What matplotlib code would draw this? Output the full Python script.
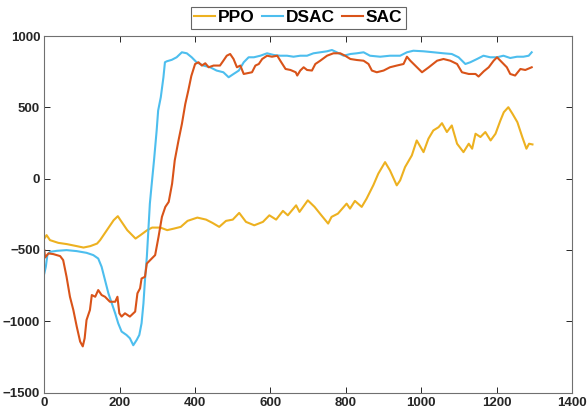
import matplotlib
matplotlib.use("Agg")
import matplotlib.pyplot as plt

ppo_x = [0, 6, 15, 37, 60, 86, 104, 122, 140, 148, 166, 184, 195, 202, 220, 242, 255, 273, 286, 308,
         326, 344, 362, 380, 406, 429, 446, 464, 482, 500, 517, 535, 557, 580, 597, 615, 633, 646, 668,
         677, 699, 717, 735, 753, 762, 779, 802, 811, 824, 842, 855, 873, 886, 904, 917, 935, 944, 957,
         975, 988, 1006, 1019, 1032, 1046, 1055, 1068, 1081, 1095, 1112, 1126, 1135, 1144, 1157, 1170,
         1184, 1197, 1210, 1219, 1231, 1242, 1255, 1268, 1279, 1286, 1295]
ppo_y = [-420, -396, -431, -450, -459, -473, -483, -473, -455, -431, -361, -291, -263, -291, -361, -420,
         -396, -361, -343, -343, -361, -350, -338, -296, -273, -287, -310, -338, -296, -287, -240, -303,
         -327, -303, -257, -287, -226, -257, -187, -233, -152, -198, -257, -315, -268, -245, -175, -210,
         -156, -198, -140, -45, 35, 116, 58, -47, -12, 81, 163, 268, 186, 280, 338, 361, 389, 327, 373,
         245, 186, 245, 210, 315, 292, 327, 268, 315, 408, 466, 501, 455, 396, 292, 210, 245, 240]

dsac_x = [0, 4, 8, 15, 33, 59, 86, 112, 130, 143, 152, 161, 170, 179, 188, 196, 205, 218, 227, 236,
          245, 252, 258, 263, 267, 272, 276, 280, 285, 291, 298, 302, 309, 316, 320, 325, 338, 351, 365,
          378, 391, 404, 422, 440, 457, 475, 489, 502, 516, 529, 542, 556, 573, 591, 609, 626, 644, 661,
          679, 697, 714, 732, 750, 763, 776, 794, 812, 829, 847, 864, 891, 917, 944, 962, 979, 1006,
          1033, 1059, 1081, 1099, 1117, 1130, 1148, 1165, 1183, 1201, 1218, 1236, 1254, 1271, 1285, 1293]
dsac_y = [-664, -618, -536, -513, -506, -501, -508, -520, -536, -560, -618, -711, -804, -874, -944,
          -1014, -1072, -1096, -1119, -1168, -1131, -1096, -1014, -874, -711, -548, -362, -175, -35, 128,
          337, 478, 571, 711, 816, 823, 833, 851, 886, 879, 851, 816, 793, 781, 758, 746, 711, 734, 758,
          816, 851, 851, 862, 879, 867, 862, 862, 855, 862, 862, 879, 886, 893, 902, 886, 862, 874, 879,
          886, 862, 855, 862, 862, 886, 897, 893, 886, 879, 874, 851, 804, 816, 839, 862, 851, 851, 862,
          846, 855, 855, 862, 886]

sac_x = [0, 2, 11, 24, 42, 50, 59, 68, 77, 86, 95, 102, 107, 112, 121, 126, 135, 143, 152, 161, 174,
         188, 194, 199, 205, 214, 227, 241, 247, 254, 258, 267, 272, 285, 294, 303, 312, 321, 330, 339,
         346, 356, 365, 374, 382, 390, 400, 409, 418, 427, 436, 449, 466, 475, 484, 493, 502, 511, 520,
         529, 538, 551, 560, 569, 578, 591, 604, 618, 626, 640, 653, 667, 671, 679, 688, 697, 710, 719,
         732, 750, 767, 785, 798, 812, 829, 847, 860, 869, 882, 900, 917, 935, 953, 962, 971, 984, 1002,
         1020, 1042, 1059, 1077, 1095, 1108, 1126, 1144, 1152, 1166, 1179, 1192, 1201, 1214, 1227, 1236,
         1249, 1263, 1276, 1293]
sac_y = [-501, -553, -524, -529, -543, -571, -688, -828, -921, -1037, -1142, -1176, -1119, -991, -921,
         -816, -828, -781, -816, -828, -863, -863, -828, -944, -967, -944, -967, -932, -804, -769, -700,
         -688, -595, -560, -536, -408, -268, -198, -163, -35, 128, 268, 384, 524, 618, 720, 804, 816,
         793, 809, 781, 793, 793, 827, 862, 874, 839, 781, 793, 734, 739, 746, 793, 804, 839, 862, 855,
         862, 827, 769, 762, 746, 723, 758, 781, 762, 758, 804, 827, 862, 879, 879, 862, 839, 832, 827,
         804, 758, 746, 758, 781, 793, 804, 855, 827, 793, 746, 781, 827, 839, 827, 804, 746, 734, 734,
         716, 753, 781, 827, 851, 816, 781, 734, 723, 769, 762, 781]

labels = ["PPO", "DSAC", "SAC"]
colors = ["#EDB120", "#4DBEEE", "#D95319"]
xticks = [0, 200, 400, 600, 800, 1000, 1200, 1400]
yticks = [-1500, -1000, -500, 0, 500, 1000]

plt.rcParams['font.family'] = ['Liberation Sans', 'DejaVu Sans']

fig = plt.figure(figsize=(5.87, 4.19), dpi=100)
ax = fig.add_axes([0.0755, 0.063, 0.899, 0.851])

lines = []
for xs, ys, lab, c in zip([ppo_x, dsac_x, sac_x], [ppo_y, dsac_y, sac_y], labels, colors):
    ln, = ax.plot(xs, ys, color=c, lw=1.5, label=lab)
    lines.append(ln)

ax.set_xlim(0, 1400)
ax.set_ylim(-1500, 1000)
ax.set_xticks(xticks)
ax.set_yticks(yticks)
ax.tick_params(direction='in', length=4, width=0.7, top=True, right=True,
               labelsize=9.5, colors='#262626', pad=3)
for lab in ax.get_xticklabels() + ax.get_yticklabels():
    lab.set_fontweight('bold')
for s in ax.spines.values():
    s.set_color('#707070')
    s.set_linewidth(0.8)

leg = fig.legend(handles=lines, labels=labels, ncol=3, loc='center',
                 bbox_to_anchor=(0.508, 0.958), frameon=True, fancybox=False,
                 prop={'weight': 'bold', 'size': 12.5}, handlelength=1.2,
                 handletextpad=0.15, columnspacing=0.45, borderpad=0.2,
                 borderaxespad=0)
leg.get_frame().set_edgecolor('#404040')
leg.get_frame().set_linewidth(0.8)

fig.savefig("out.png", dpi=100)
